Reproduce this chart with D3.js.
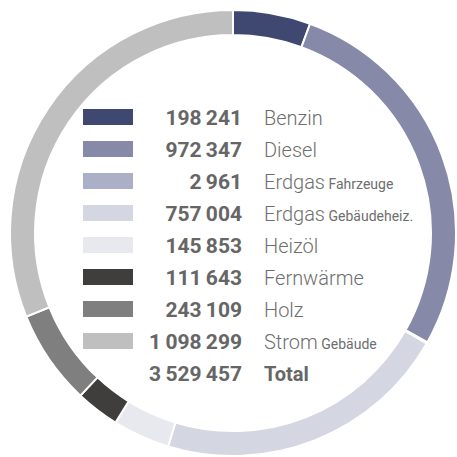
<!DOCTYPE html>
<html>
<head>
<meta charset="utf-8">
<script src="https://cdn.jsdelivr.net/npm/d3@7"></script>
<style>
  body { margin: 0; background: #fff; }
  svg { display: block; }
</style>
</head>
<body>
<svg id="ring" width="457" height="457"></svg>
<script>
// data
var categories = ["Benzin", "Diesel", "Erdgas", "Erdgas", "Heizöl", "Fernwärme", "Holz", "Strom"];
var subLabels = ["", "", "Fahrzeuge", "Gebäudeheiz.", "", "", "", "Gebäude"];
var values = [198241, 972347, 2961, 757004, 145853, 111643, 243109, 1098299];
var colors = ["#3f4870", "#8789a8", "#abb0c6", "#d4d7e2", "#e8e9ee", "#403e3d", "#7f7f7f", "#bfbfbf"];
var totalLabel = "Total";

var svg = d3.select("#ring"),
    cx = 233, cy = 233,
    outerR = 223, innerR = 198;

var rows = categories.map((c, i) => ({ name: c, sub: subLabels[i], value: values[i], color: colors[i] }));
var total = d3.sum(values);

var pie = d3.pie().sort(null).value(d => d.value);
var arc = d3.arc().innerRadius(innerR).outerRadius(outerR);

var g = svg.append("g")
    .attr("transform", "translate(" + cx + "," + cy + ")");

g.selectAll("path")
    .data(pie(rows))
    .enter()
    .append("path")
    .attr("d", arc)
    .attr("fill", d => d.data.color)
    .attr("stroke", "#fff")
    .attr("stroke-width", 2);

// number format with thin space as thousands separator
var fmt = d3.formatLocale({ decimal: ".", thousands: "\u2009", grouping: [3], currency: ["", ""] }).format(",d");

var y = d3.scaleBand()
    .domain(d3.range(rows.length + 1))
    .range([101, 101 + 32 * (rows.length + 1)]);

var legend = svg.append("g").attr("class", "legend");

var item = legend.selectAll("g")
    .data(rows)
    .enter()
    .append("g")
    .attr("transform", (d, i) => "translate(0," + y(i) + ")");

item.append("rect")
    .attr("x", 83)
    .attr("y", 8)
    .attr("width", 50)
    .attr("height", 16)
    .attr("fill", d => d.color);

item.append("text")
    .attr("x", 242)
    .attr("y", 24)
    .attr("text-anchor", "end")
    .attr("font-family", "Roboto, sans-serif")
    .attr("font-weight", "bold")
    .attr("font-size", 21)
    .attr("fill", "#666")
    .text(d => fmt(d.value));

var lbl = item.append("text")
    .attr("x", 264)
    .attr("y", 24)
    .attr("font-family", "Roboto, sans-serif")
    .attr("font-weight", 300)
    .attr("font-size", 20)
    .attr("fill", "#6e6e6e");

lbl.append("tspan").text(d => d.name);
lbl.append("tspan")
    .attr("font-size", 14)
    .attr("font-weight", 400)
    .text(d => d.sub ? " " + d.sub : "");

// total row
var tot = legend.append("g")
    .attr("transform", "translate(0," + y(rows.length) + ")");

tot.append("text")
    .attr("x", 242)
    .attr("y", 24)
    .attr("text-anchor", "end")
    .attr("font-family", "Roboto, sans-serif")
    .attr("font-weight", "bold")
    .attr("font-size", 21)
    .attr("fill", "#666")
    .text(fmt(total));

tot.append("text")
    .attr("x", 264)
    .attr("y", 24)
    .attr("font-family", "Roboto, sans-serif")
    .attr("font-weight", "bold")
    .attr("font-size", 20)
    .attr("fill", "#666")
    .text(totalLabel);
</script>
</body>
</html>
